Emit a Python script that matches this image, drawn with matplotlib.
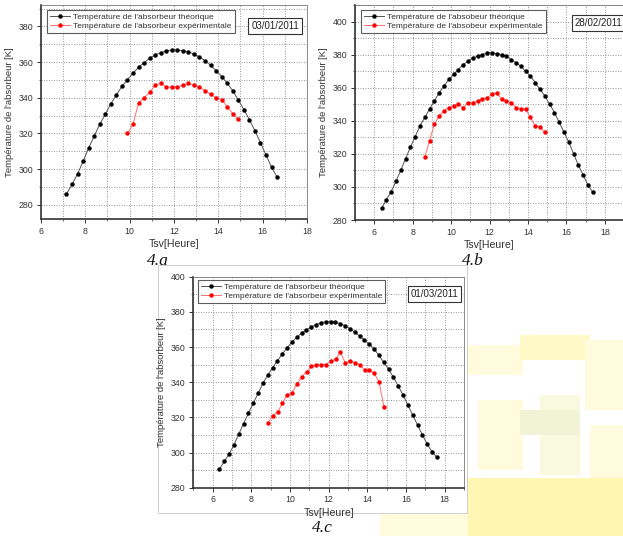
import numpy as np
import matplotlib
matplotlib.use("Agg")
import matplotlib.pyplot as plt
from matplotlib.patches import Rectangle

plt.rcParams["font.family"] = ["Liberation Sans", "DejaVu Sans"]

# ---- 4.a  03/01/2011 ----
a_theo_start, a_step = 7.15, 0.25
a_theo = [286.0, 291.4, 297.3, 304.4, 311.8, 318.5, 325.1, 330.7, 336.6, 341.6,
          346.3, 350.2, 353.7, 357.1, 359.7, 362.1, 364.0, 365.3, 366.2, 366.8,
          366.8, 366.4, 365.7, 364.5, 362.9, 360.8, 358.2, 355.2, 351.9, 348.2,
          343.9, 338.8, 333.4, 327.7, 321.5, 314.8, 307.9, 301.0, 295.5]
a_exp_start = 9.9
a_exp = [320.0, 325.0, 337.0, 340.0, 343.0, 347.0, 348.0, 346.0, 346.0, 346.0,
         347.0, 348.0, 347.0, 346.0, 344.0, 342.0, 340.0, 339.0, 335.0, 331.0,
         328.0]

# ---- 4.b  28/02/2011 ----
b_theo_start = 6.38
b_theo = [287.0, 292.1, 297.2, 303.3, 310.0, 317.0, 323.9, 330.4, 336.9, 342.0,
          347.0, 352.0, 357.0, 361.0, 365.0, 368.0, 371.0, 374.0, 376.0, 378.0,
          379.0, 380.0, 381.0, 381.0, 380.5, 380.0, 379.0, 377.0, 375.0, 373.0,
          370.0, 367.0, 363.0, 359.0, 355.0, 350.0, 345.0, 339.0, 333.0, 327.0,
          320.0, 313.0, 307.0, 301.0, 296.7]
b_exp_start = 8.63
b_exp = [318.0, 328.0, 338.0, 343.0, 346.0, 348.0, 349.0, 350.0, 348.0, 351.0,
         351.0, 352.0, 353.0, 354.0, 356.0, 357.0, 353.0, 352.0, 351.0, 348.0,
         347.0, 347.0, 342.0, 337.0, 336.0, 333.0]

# ---- 4.c  01/03/2011 ----
c_theo_start = 6.35
c_theo = [290.4, 295.0, 299.1, 304.3, 310.5, 316.4, 322.3, 328.0, 333.7, 339.4,
          344.0, 348.2, 352.2, 356.0, 359.6, 362.8, 365.5, 367.8, 369.8, 371.4,
          372.8, 373.8, 374.4, 374.5, 374.1, 373.3, 372.1, 370.5, 368.5, 366.2,
          364.0, 361.7, 358.9, 355.3, 351.3, 347.3, 342.8, 337.8, 332.7, 327.0,
          321.2, 315.6, 310.0, 304.8, 300.3, 297.3]
c_exp_start = 8.86
c_exp = [317.0, 321.0, 323.0, 328.0, 333.0, 334.0, 339.0, 343.0, 346.0, 349.0,
         350.0, 350.0, 350.0, 352.0, 353.0, 357.0, 351.0, 352.0, 351.0, 350.0,
         347.0, 347.0, 345.0, 340.0, 326.0]

lbl_a = ["Température de l'absorbeur théorique", "Température de l'absorbeur expérimentale"]
lbl_b = ["Température de l'absobeur théorique", "Température de l'absobeur expérimentale"]

W, H = 623, 536
fig = plt.figure(figsize=(W / 100, H / 100), dpi=100)

# faint yellow watermark in the lower right corner
wm = [(468, 345, 55, 30, "#fffbdc"), (520, 335, 70, 25, "#fff9c8"),
      (585, 340, 38, 70, "#fffbdc"), (478, 400, 45, 70, "#fffbdc"),
      (540, 395, 40, 80, "#f8f9de"), (590, 425, 33, 65, "#fffbdc"),
      (380, 513, 90, 23, "#fffbdc"),
      (468, 478, 155, 58, "#fff6b4"), (520, 410, 60, 25, "#f0f3d6")]
for x0, y0, w, h, c in wm:
    fig.patches.append(Rectangle((x0 / W, 1 - (y0 + h) / H), w / W, h / H,
                                 transform=fig.transFigure, color=c,
                                 lw=0, zorder=0))
# white background of panel c image
fig.patches.append(Rectangle((158 / W, 1 - 513 / H), 309 / W, 248 / H,
                             transform=fig.transFigure, facecolor="white",
                             edgecolor="#c8c8c8", lw=0.6, zorder=1))


def panel(rect, xlim, ylim, theo_start, theo, exp_start, exp, labels, date,
          date_xy, date_ha, leg_xy):
    l, t, r, b = rect
    ax = fig.add_axes([l / W, 1 - b / H, (r - l) / W, (b - t) / H])
    ax.set_zorder(2)
    xt = theo_start + a_step * np.arange(len(theo))
    xe = exp_start + a_step * np.arange(len(exp))
    ax.plot(xt, theo, color="#555555", lw=0.7, marker="o", ms=2.2,
            mfc="black", mec="black", label=labels[0])
    ax.plot(xe, exp, color="#ff7070", lw=0.7, marker="o", ms=2.2,
            mfc="red", mec="red", label=labels[1])
    ax.set_xlim(*xlim)
    ax.set_ylim(*ylim)
    ax.set_xticks(np.arange(6, 19, 2))
    ax.set_xticks(np.arange(xlim[0], xlim[1] + 0.1, 1), minor=True)
    ax.set_yticks(np.arange(280, ylim[1] + 0.1, 20))
    ax.set_yticks(np.arange(280, ylim[1] + 0.1, 10), minor=True)
    ax.grid(True, which="both", color="#8a8a8a", ls=(0, (1.2, 1.8)), lw=0.6)
    ax.tick_params(which="both", direction="out", labelsize=6.3,
                   labelcolor="#333333", color="#333333", pad=2.5)
    ax.tick_params(which="major", length=3, width=0.7)
    ax.tick_params(which="minor", length=1.5, width=0.5)
    for s in ["left", "bottom"]:
        ax.spines[s].set_linewidth(1.2)
        ax.spines[s].set_color("#333333")
    for s in ["top", "right"]:
        ax.spines[s].set_linewidth(0.6)
        ax.spines[s].set_color("#777777")
    ax.set_xlabel("Tsv[Heure]", fontsize=7.6, color="#333333")
    ax.set_ylabel("Température de l'absorbeur [K]", fontsize=6.8,
                  color="#333333")
    ax.xaxis.set_label_coords(0.5, -0.095)
    ax.yaxis.set_label_coords(-0.1, 0.5)
    leg = ax.legend(loc="upper left", bbox_to_anchor=leg_xy, borderaxespad=0,
                    fontsize=6.0, frameon=True, fancybox=False,
                    handlelength=2.4, handletextpad=0.4, borderpad=0.35,
                    labelspacing=0.2)
    leg.get_frame().set_edgecolor("#333333")
    leg.get_frame().set_linewidth(0.8)
    for txt in leg.get_texts():
        txt.set_color("#333333")
    ax.text(date_xy[0], date_xy[1], date, transform=ax.transAxes, fontsize=7,
            ha=date_ha, va="center", color="#222222",
            bbox=dict(boxstyle="square,pad=0.3", fc="white", ec="#333333", lw=0.8))
    return ax


panel((41, 5, 307, 219), (6, 18), (272, 392), a_theo_start, a_theo,
      a_exp_start, a_exp, lbl_a, "03/01/2011", (0.88, 0.9), "center",
      (0.023, 0.977))
panel((355, 5, 624, 220), (5, 19), (280, 410), b_theo_start, b_theo,
      b_exp_start, b_exp, lbl_b, "28/02/2011", (0.818, 0.915), "left",
      (0.022, 0.977))
panel((193.3, 276.7, 464, 487.7), (5, 19), (280, 400), c_theo_start, c_theo,
      c_exp_start, c_exp, lbl_a, "01/03/2011", (0.891, 0.918), "center",
      (0.017, 0.984))

for txt, (x, y) in [("4.a", (158, 261)), ("4.b", (473, 261)), ("4.c", (322, 528))]:
    fig.text(x / W, 1 - y / H, txt, fontsize=12.5, ha="center", va="center",
             family="Liberation Serif", style="italic", color="#111111", zorder=3)

fig.savefig("out.png", dpi=100, facecolor="white")
